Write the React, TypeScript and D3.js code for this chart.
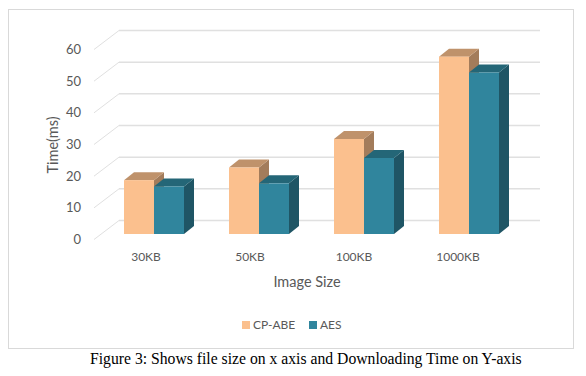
import React from "react";
import * as d3 from "d3";

const categories = ["30KB", "50KB", "100KB", "1000KB"];
const cpAbe = [17, 21, 30, 56];
const aes = [15, 16, 24, 51];
const yTicks = [0, 10, 20, 30, 40, 50, 60];
const seriesNames = ["CP-ABE", "AES"];
const caption = "Figure 3: Shows file size on x axis and Downloading Time on Y-axis";

const W = 586, H = 376;
const font = "Lato, 'Open Sans', sans-serif";
const textColor = "#595959";
const gridColor = "#e0e0e0";

const x = d3.scaleBand<string>().domain(categories).range([101.5, 521.5]);
const xLabel = d3.scaleBand<string>().domain(categories).range([94, 510]);
const y = d3.scaleLinear().domain([0, 60]).range([234, 44]);
const depthX = 10, depthY = 8;
const barW = 30;
const wallDX = 25, wallDY = -19;
const frontX = 94, wallRight = 540;
const yFront = d3.scaleLinear().domain([0, 60]).range([239.5, 49.5]);

const colors = [
  { front: "#fbc08e", top: "#bf926b", side: "#a37c5b" },
  { front: "#30859d", top: "#246677", side: "#1f5565" },
];

function Bar({ bx, value, c }: { bx: number; value: number; c: typeof colors[0] }) {
  const t = y(value), b = y(0);
  return (
    <g>
      <polygon fill={c.side} points={`${bx + barW},${t} ${bx + barW + depthX},${t - depthY} ${bx + barW + depthX},${b - depthY} ${bx + barW},${b}`} />
      <polygon fill={c.top} points={`${bx},${t} ${bx + depthX},${t - depthY} ${bx + barW + depthX},${t - depthY} ${bx + barW},${t}`} />
      <rect x={bx} y={t} width={barW} height={b - t} fill={c.front} />
    </g>
  );
}

export default function App() {
  return (
    <svg width={W} height={H} style={{ position: "absolute", left: 0, top: 0, background: "#fff" }} fontFamily={font}>
      <rect x={8.5} y={9.5} width={565} height={339} fill="#fff" stroke="#d9d9d9" />
      {yTicks.map((t) => (
        <g key={t}>
          <line x1={frontX} x2={frontX + wallDX} y1={yFront(t)} y2={yFront(t) + wallDY} stroke={gridColor} strokeWidth={1} />
          <line x1={frontX + wallDX} x2={wallRight} y1={yFront(t) + wallDY} y2={yFront(t) + wallDY} stroke={gridColor} strokeWidth={1.5} />
          <text x={81} y={yFront(t) + 4.5} textAnchor="end" fontSize={13} fill={textColor}>{t}</text>
        </g>
      ))}
      {categories.map((cat, i) => {
        const cx = x(cat)! + x.bandwidth() / 2;
        return (
          <g key={cat}>
            <Bar bx={cx - barW} value={cpAbe[i]} c={colors[0]} />
            <Bar bx={cx} value={aes[i]} c={colors[1]} />
            <text x={xLabel(cat)! + xLabel.bandwidth() / 2} y={261} textAnchor="middle" fontSize={12} fill={textColor}>{cat}</text>
          </g>
        );
      })}
      <text x={307} y={287} textAnchor="middle" fontSize={14.5} fill={textColor}>Image Size</text>
      <text transform="translate(58,145) rotate(-90)" textAnchor="middle" fontSize={14.5} fill={textColor}>Time(ms)</text>
      <rect x={242} y={321} width={8} height={8} fill={colors[0].front} />
      <text x={253} y={329} fontSize={12} fill={textColor}>{seriesNames[0]}</text>
      <rect x={309} y={321} width={8} height={8} fill={colors[1].front} />
      <text x={320} y={329} fontSize={12} fill={textColor}>{seriesNames[1]}</text>
      <text x={90} y={364} fontFamily="'Liberation Serif', serif" fontSize={15.7} fill="#000">{caption}</text>
    </svg>
  );
}
